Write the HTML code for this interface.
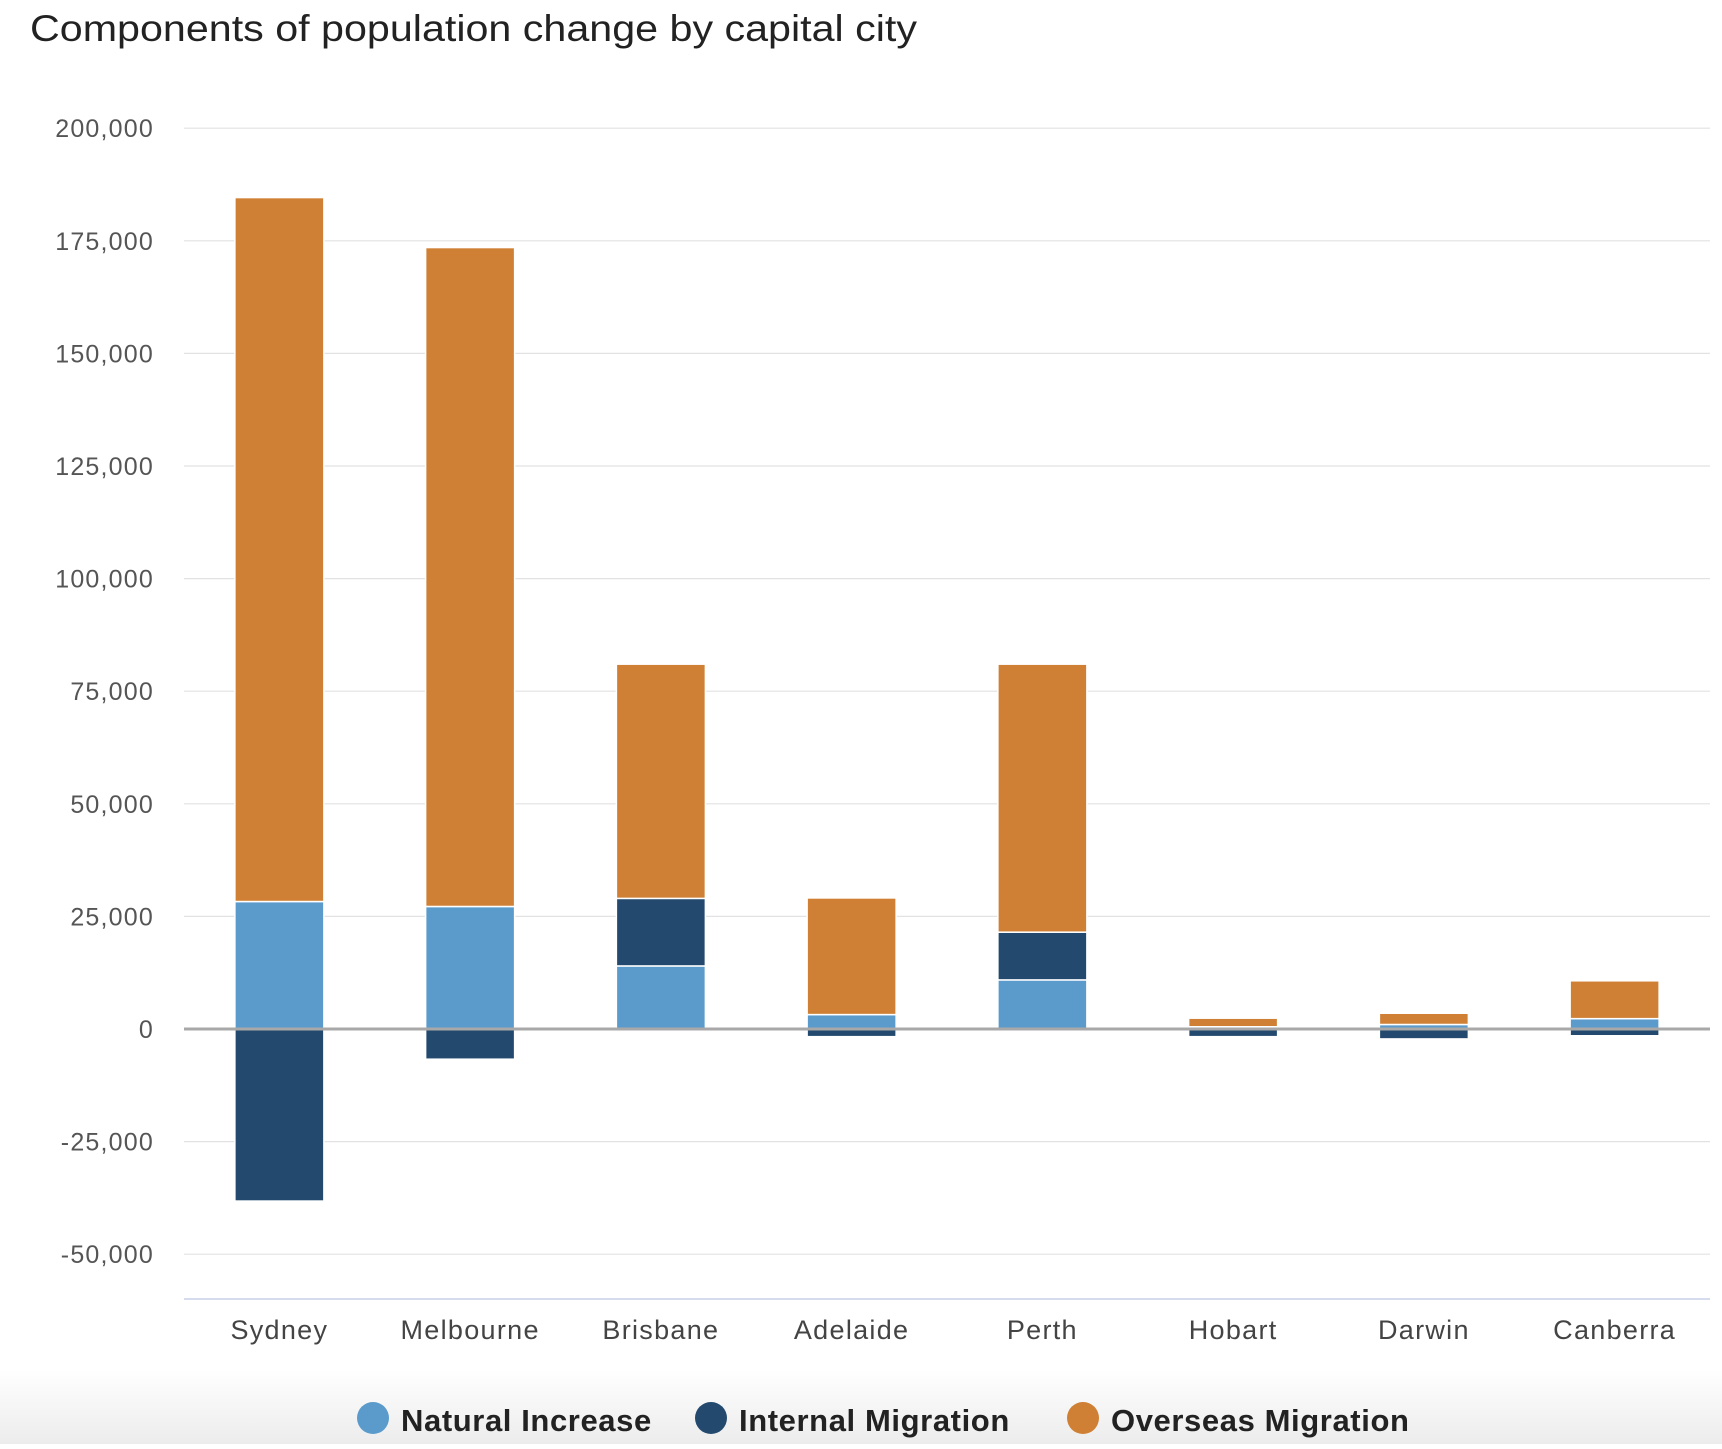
<!DOCTYPE html>
<html><head><meta charset="utf-8">
<style>
html,body{margin:0;padding:0;background:#fff;}
body{width:1722px;height:1444px;overflow:hidden;font-family:"Liberation Sans",sans-serif;}
</style></head>
<body>
<svg id="chart" width="1722" height="1444" xmlns="http://www.w3.org/2000/svg">
<defs><linearGradient id="bg" x1="0" y1="0" x2="0" y2="1"><stop offset="0" stop-color="#ffffff"/><stop offset="1" stop-color="#ececec"/></linearGradient></defs>
<rect x="0" y="1370" width="1722" height="74" fill="url(#bg)"/>
<text x="30" y="41" font-size="37" fill="#222" textLength="887" lengthAdjust="spacingAndGlyphs">Components of population change by capital city</text>
<g id="grid"></g><g id="bars"></g><g id="axes"></g><g id="legend"></g>
</svg>
<script>
const categories=["Sydney","Melbourne","Brisbane","Adelaide","Perth","Hobart","Darwin","Canberra"];
const naturalIncrease=[28300,27200,14000,3200,10900,500,1000,2300];
const internalMigration=[-38200,-6700,15000,-1700,10600,-1700,-2200,-1500];
const overseasMigration=[156300,146300,52000,25900,59500,1900,2500,8400];
const yTicks=[-50000,-25000,0,25000,50000,75000,100000,125000,150000,175000,200000];
const seriesNames=["Natural Increase","Internal Migration","Overseas Migration"];
const colors=["#5a9bcc","#234a6e","#cf8034"];
const NS="http://www.w3.org/2000/svg";
const L=184,R=1710,Y0=1029,PX=112.6/25000;
const y=v=>Y0-v*PX;
const band=(R-L)/categories.length;
const xc=i=>L+band*(i+0.5);
const BW=89;
function mk(t,a,p){const e=document.createElementNS(NS,t);for(const k in a)e.setAttribute(k,a[k]);p.appendChild(e);return e;}
const grid=document.getElementById('grid'),bars=document.getElementById('bars'),axes=document.getElementById('axes'),leg=document.getElementById('legend');
yTicks.forEach(v=>{
 const l=mk('line',{x1:L,x2:R,y1:y(v),y2:y(v),stroke:'#e2e2e2','stroke-width':1.2},grid);
 
 
 const t=mk('text',{x:154,y:y(v)+9,'text-anchor':'end','font-size':25,fill:'#555','letter-spacing':1.2},axes);
 t.textContent=v.toLocaleString('en-US');
 
 
});
const series=[naturalIncrease,internalMigration,overseasMigration];
categories.forEach((c,i)=>{
 let pos=0,neg=0;
 series.forEach((s,k)=>{
  const v=s[i];let a,b;
  if(v>=0){a=pos;b=pos+v;pos=b;}else{a=neg;b=neg+v;neg=b;}
  const top=y(Math.max(a,b)),bot=y(Math.min(a,b));
  const r=mk('rect',{x:xc(i)-BW/2,y:top,width:BW,height:Math.max(bot-top,0.5),fill:colors[k],stroke:'#fff','stroke-width':1.5},bars);
  
  
 });
 const t=mk('text',{x:xc(i),y:1339,'text-anchor':'middle','font-size':27,fill:'#444','letter-spacing':1.3},axes);
 t.textContent=c;
 
 
});
const z=mk('line',{x1:L,x2:R,y1:Y0,y2:Y0,stroke:'#a8a8a8','stroke-width':3},axes);


const xa=mk('line',{x1:L,x2:R,y1:1299,y2:1299,stroke:'#c8d0e8','stroke-width':1.5},axes);


const lx=[373,711,1083];
seriesNames.forEach((n,k)=>{
 const g=mk('g',{},leg);
 
 
 mk('circle',{cx:lx[k],cy:1418,r:16,fill:colors[k]},g);
 const t=mk('text',{x:lx[k]+28,y:1431,'font-size':31,'font-weight':'bold',fill:'#222','letter-spacing':0.6},g);
 t.textContent=n;
});
</script>
</body></html>
